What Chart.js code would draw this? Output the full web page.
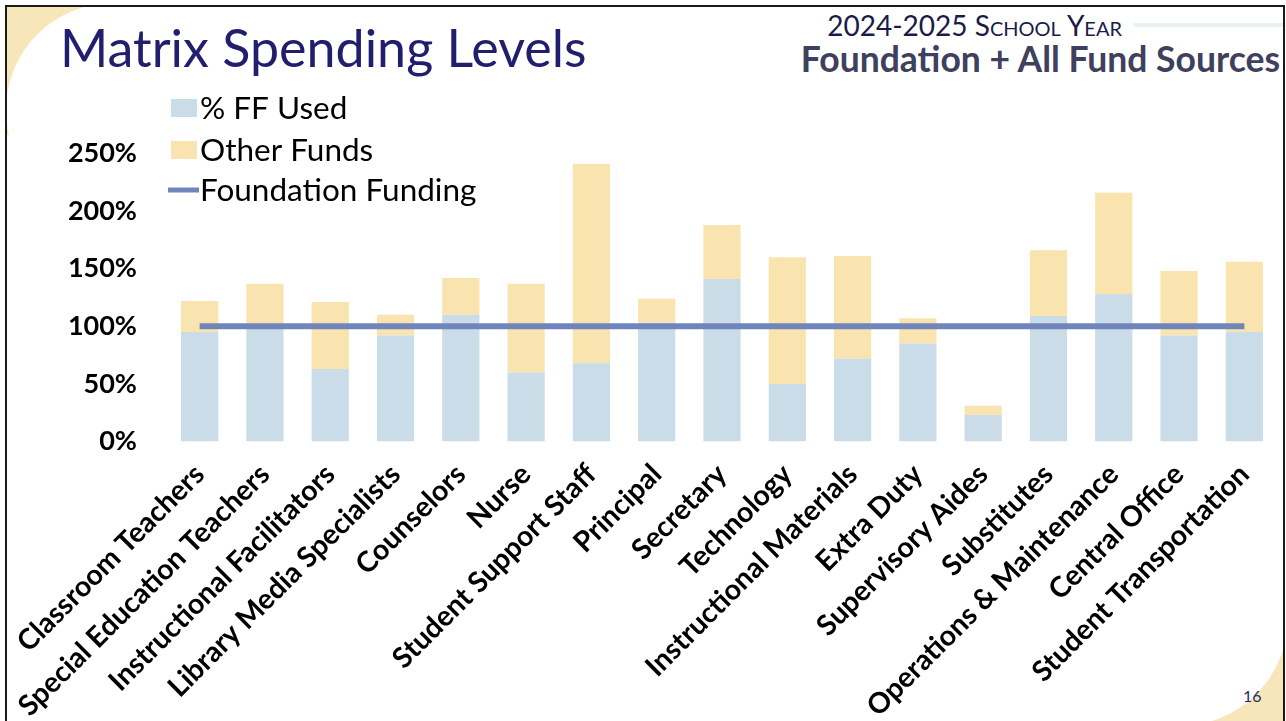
<!DOCTYPE html>
<html>
<head>
<meta charset="utf-8">
<script src="https://cdn.jsdelivr.net/npm/chart.js@4"></script>
<style>
  body { margin: 0; background: #fff; }
  #slide { position: relative; width: 1286px; height: 721px; overflow: hidden; background: #fff; font-family: Lato, sans-serif; }
  .frame { position: absolute; left: 5px; top: 5px; right: 1px; bottom: -10px; border: 2px solid #1a1a1a; }
  .tl { position: absolute; left: 7px; top: 7px; width: 120px; height: 128px; background: #f8e6bb; overflow: hidden; }
  .tl div { position: absolute; left: -1px; top: -4px; width: 214px; height: 214px; border-radius: 50%; background: #fff; }
  .br { position: absolute; left: 1150px; top: 600px; width: 133px; height: 121px; background: #f8e6bb; overflow: hidden; }
  .br div { position: absolute; left: -79px; top: -91px; width: 217px; height: 217px; border-radius: 50%; background: #fff; }
  .title { position: absolute; left: 60px; top: 16px; font-size: 52px; color: #221e6e; white-space: nowrap; }
  .year { position: absolute; right: 164px; top: 8px; font-size: 28px; color: #1b1b48; font-variant: small-caps; white-space: nowrap; }
  .rule { position: absolute; left: 1134px; top: 23px; right: 3px; height: 4px; background: #e9f1f1; }
  .sources { position: absolute; right: 6px; top: 37px; font-size: 35.5px; font-weight: bold; color: #3e405e; white-space: nowrap; }
  .page { position: absolute; left: 1243px; top: 686px; font-size: 16px; color: #2a2a66; }
  #wrap { position: absolute; left: 0; top: 0; width: 1286px; height: 721px; }
</style>
</head>
<body>
<div id="slide">
  <div class="tl"><div></div></div>
  <div class="br"><div></div></div>
  <div class="frame"></div>
  <div class="title">Matrix Spending Levels</div>
  <div class="year">2024-2025 School Year</div>
  <div class="rule"></div>
  <div class="sources">Foundation + All Fund Sources</div>
  <div class="page">16</div>
  <div id="wrap"><canvas id="matrixChart"></canvas></div>
</div>
<script>
const categories = ['Classroom Teachers', 'Special Education Teachers', 'Instructional Facilitators',
    'Library Media Specialists', 'Counselors', 'Nurse', 'Student Support Staff', 'Principal',
    'Secretary', 'Technology', 'Instructional Materials', 'Extra Duty', 'Supervisory Aides',
    'Substitutes', 'Operations & Maintenance', 'Central Office', 'Student Transportation'];
const ffUsed = [95, 102, 63, 92, 110, 60, 68, 103, 141, 50, 72, 85, 23, 109, 128, 92, 95];
const otherFunds = [27, 35, 58, 18, 32, 77, 173, 21, 47, 110, 89, 22, 8, 57, 88, 56, 61];
const foundation = [100, 100, 100, 100, 100, 100, 100, 100, 100, 100, 100, 100, 100, 100, 100, 100, 100];
const yTicks = [0, 50, 100, 150, 200, 250];

Chart.defaults.font.family = 'Lato, sans-serif';

// legend drawn inside the plot area, like the original slide
const slideLegend = {
    id: 'slideLegend',
    afterDraw(chart) {
        const ctx = chart.ctx;
        const rows = [108, 150, 190];
        ctx.save();
        ctx.font = '31.5px Lato, sans-serif';
        ctx.textBaseline = 'middle';
        chart.data.datasets.forEach((ds, i) => {
            const y = rows[i];
            if (ds.type === 'line') {
                ctx.fillStyle = ds.borderColor;
                ctx.fillRect(168, y - 2.5, 31, 5);
            } else {
                ctx.fillStyle = ds.backgroundColor;
                ctx.fillRect(171, y - 9, 26, 18);
            }
            ctx.fillStyle = '#000';
            ctx.fillText(ds.label, 200, y + 1);
        });
        ctx.restore();
    }
};

new Chart(document.getElementById('matrixChart'), {
    type: 'bar',
    data: {
        labels: categories,
        datasets: [{
            label: '% FF Used',
            data: ffUsed,
            backgroundColor: '#cadce8',
            stack: 'funds',
            order: 1,
            barPercentage: 0.57,
            categoryPercentage: 1
        }, {
            label: 'Other Funds',
            data: otherFunds,
            backgroundColor: '#f9e4af',
            stack: 'funds',
            order: 1,
            barPercentage: 0.57,
            categoryPercentage: 1
        }, {
            type: 'line',
            label: 'Foundation Funding',
            data: foundation,
            borderColor: '#7185bd',
            borderWidth: 6,
            pointRadius: 0,
            stack: 'ff',
            order: 0
        }]
    },
    options: {
        responsive: true,
        maintainAspectRatio: false,
        animation: false,
        layout: { padding: { left: 0, right: 9, top: 153.5, bottom: 0 } },
        plugins: { legend: { display: false }, tooltip: { enabled: false } },
        scales: {
            x: {
                stacked: true,
                grid: { display: false, drawTicks: false },
                border: { display: false },
                ticks: {
                    autoSkip: false,
                    minRotation: 45,
                    maxRotation: 45,
                    padding: 16,
                    color: '#000',
                    font: { size: 28.5, weight: 'bold' }
                },
                afterFit(scale) {
                    scale.height = 279.5;
                    scale.paddingLeft = 0;
                    scale.paddingRight = 0;
                }
            },
            y: {
                stacked: true,
                min: 0,
                max: 250,
                grid: { display: false, drawTicks: false },
                border: { display: false },
                afterBuildTicks(scale) {
                    scale.ticks = yTicks.map(v => ({ value: v }));
                },
                ticks: {
                    padding: 30,
                    color: '#000',
                    font: { size: 27, weight: 'bold' },
                    callback: v => v + '%'
                },
                afterFit(scale) {
                    scale.width = 167;
                }
            }
        }
    },
    plugins: [slideLegend]
});
</script>
</body>
</html>
